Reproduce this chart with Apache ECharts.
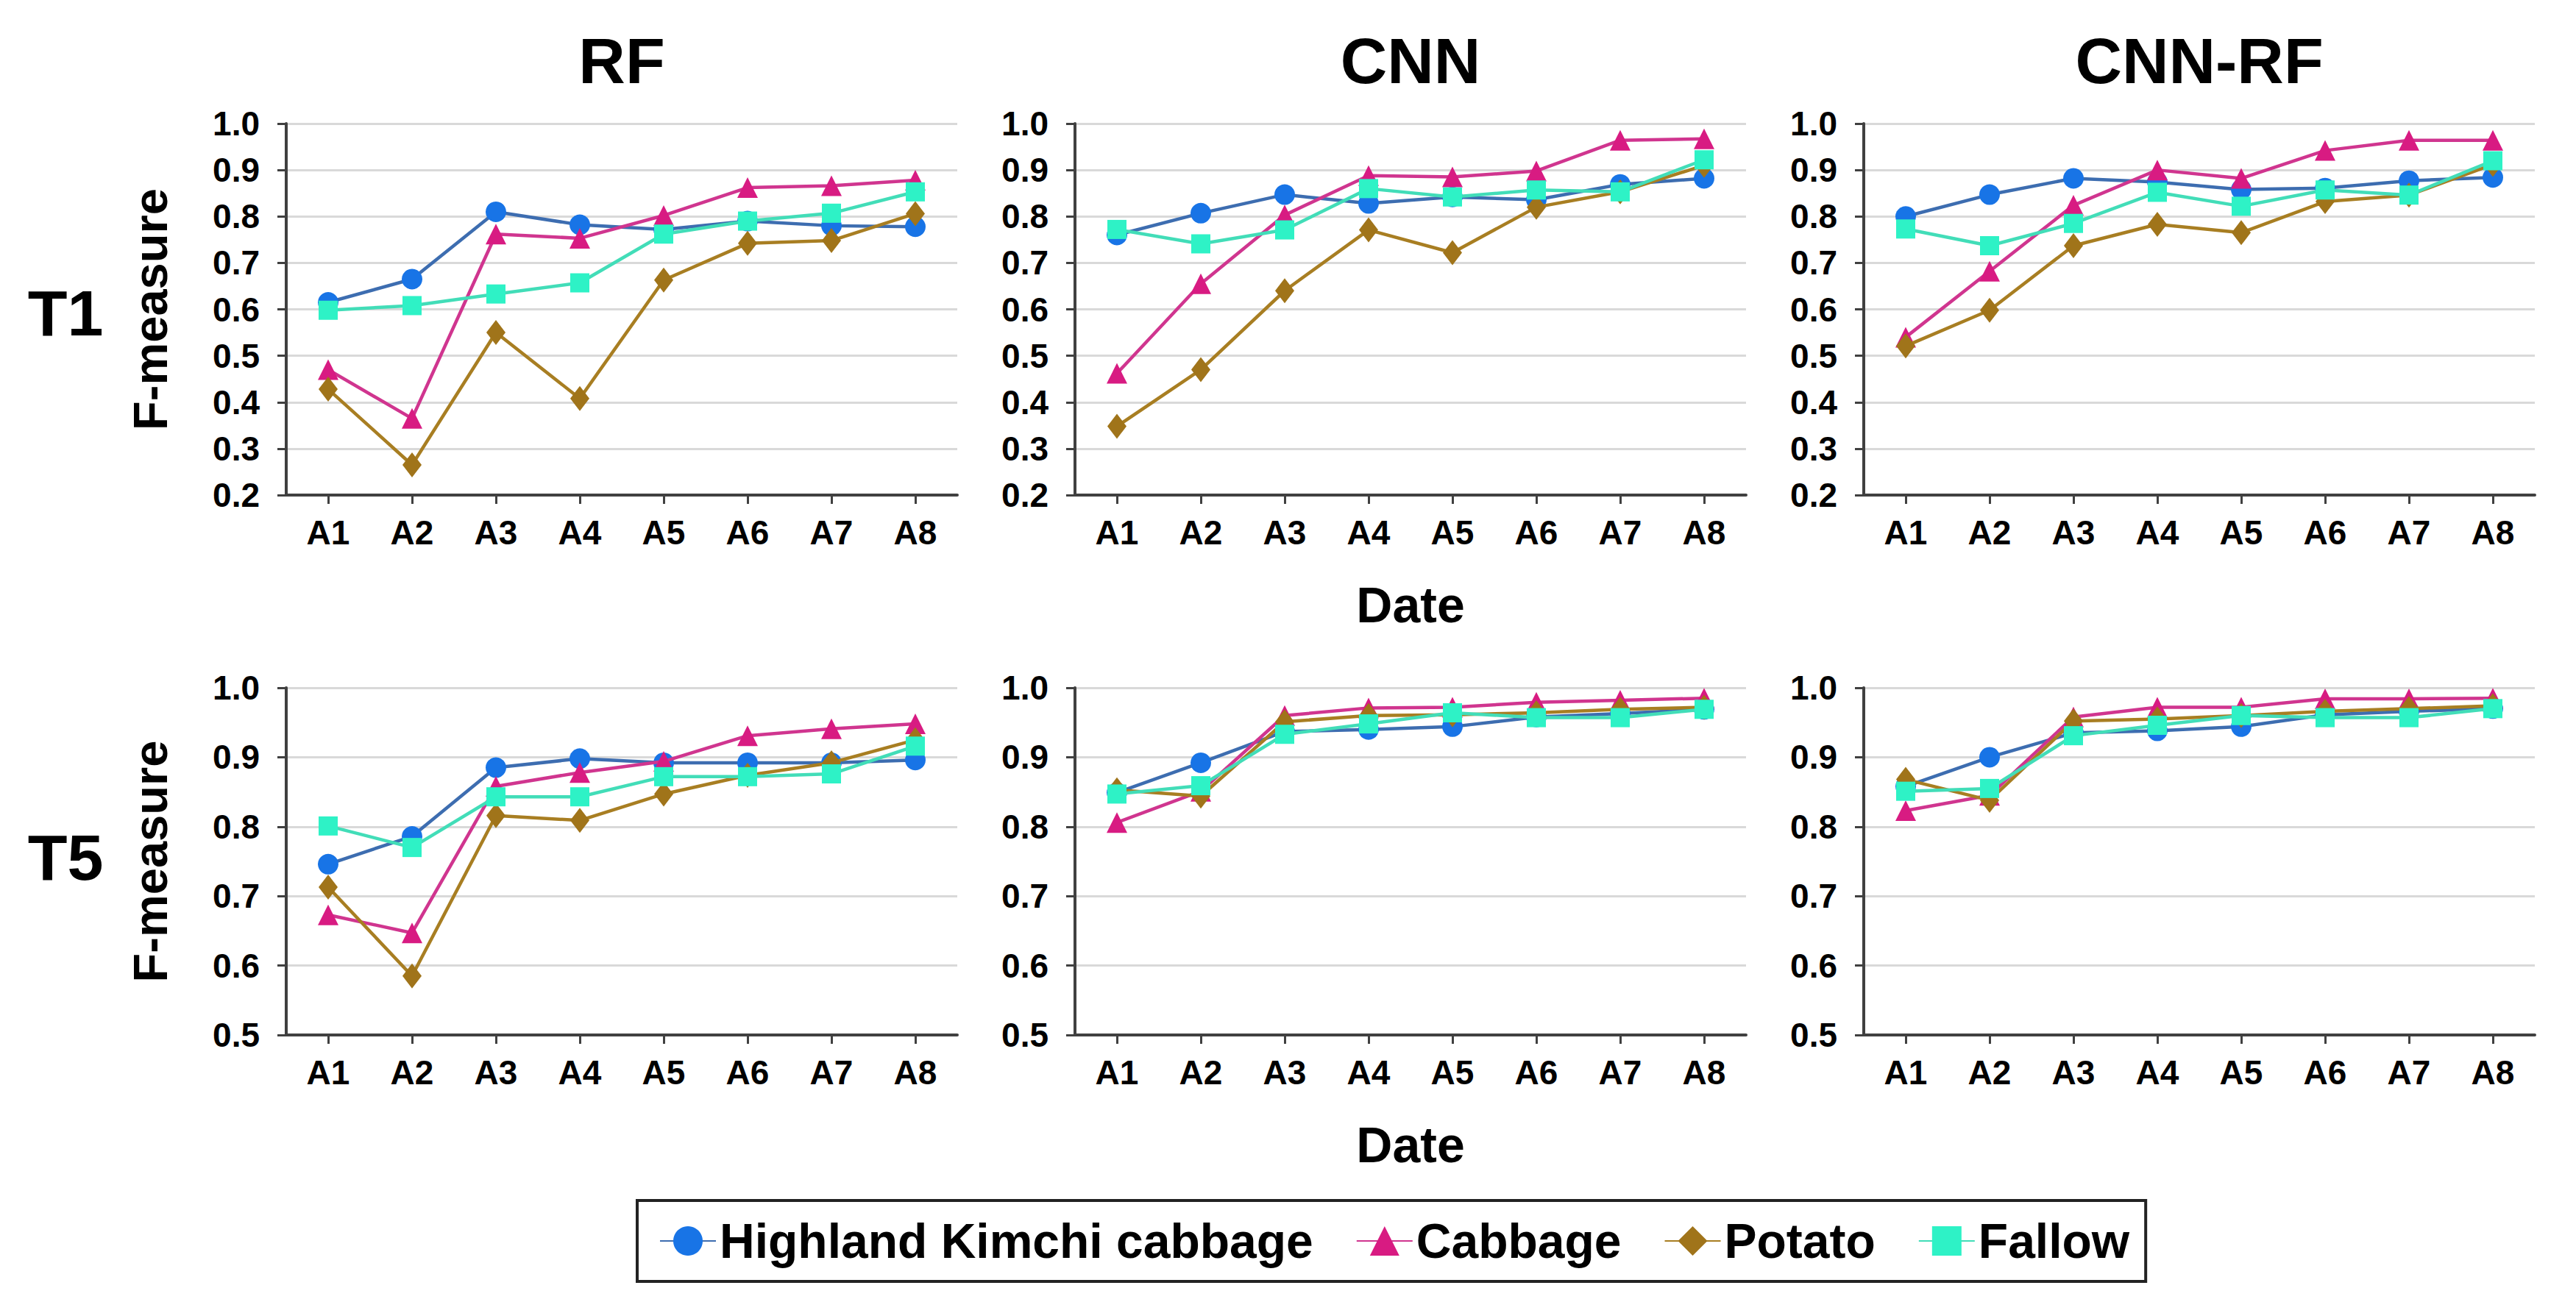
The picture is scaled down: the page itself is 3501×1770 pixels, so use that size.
<!DOCTYPE html>
<html>
<head>
<meta charset="utf-8">
<script src="https://cdn.jsdelivr.net/npm/echarts@6/dist/echarts.min.js"></script>
<style>html,body{margin:0;padding:0;background:#fff}#c{width:3501px;height:1770px}</style>
</head>
<body>
<div id="c"></div>
<script>
const categories = ['A1','A2','A3','A4','A5','A6','A7','A8'];
const seriesNames = ['Highland Kimchi cabbage','Cabbage','Potato','Fallow'];
const methodTitles = ['RF','CNN','CNN-RF'];
const rowLabels = ['T1','T5'];
const yTicksT1 = [0.2,0.3,0.4,0.5,0.6,0.7,0.8,0.9,1.0];
const yTicksT5 = [0.5,0.6,0.7,0.8,0.9,1.0];

// T1
const t1_rf_highland = [0.615,0.665,0.810,0.782,0.772,0.790,0.780,0.778];
const t1_rf_cabbage  = [0.470,0.365,0.762,0.753,0.802,0.862,0.866,0.878];
const t1_rf_potato   = [0.428,0.265,0.550,0.408,0.663,0.742,0.748,0.806];
const t1_rf_fallow   = [0.598,0.608,0.633,0.657,0.762,0.790,0.807,0.853];

const t1_cnn_highland = [0.760,0.807,0.847,0.828,0.842,0.836,0.869,0.882];
const t1_cnn_cabbage  = [0.462,0.655,0.803,0.888,0.885,0.898,0.964,0.967];
const t1_cnn_potato   = [0.348,0.470,0.640,0.771,0.722,0.820,0.853,0.910];
const t1_cnn_fallow   = [0.772,0.741,0.771,0.860,0.842,0.857,0.853,0.922];

const t1_cnnrf_highland = [0.800,0.847,0.882,0.874,0.858,0.861,0.877,0.884];
const t1_cnnrf_cabbage  = [0.540,0.682,0.824,0.900,0.882,0.942,0.964,0.964];
const t1_cnnrf_potato   = [0.521,0.598,0.737,0.783,0.765,0.832,0.846,0.912];
const t1_cnnrf_fallow   = [0.773,0.737,0.785,0.852,0.822,0.857,0.846,0.920];

// T5
const t5_rf_highland = [0.746,0.786,0.885,0.898,0.892,0.892,0.892,0.896];
const t5_rf_cabbage  = [0.673,0.647,0.858,0.878,0.894,0.931,0.941,0.948];
const t5_rf_potato   = [0.713,0.585,0.816,0.809,0.847,0.874,0.892,0.925];
const t5_rf_fallow   = [0.801,0.770,0.843,0.843,0.872,0.872,0.876,0.916];

const t5_cnn_highland = [0.849,0.892,0.937,0.940,0.944,0.958,0.963,0.969];
const t5_cnn_cabbage  = [0.806,0.851,0.960,0.971,0.972,0.979,0.982,0.985];
const t5_cnn_potato   = [0.853,0.844,0.951,0.960,0.961,0.964,0.969,0.972];
const t5_cnn_fallow   = [0.847,0.859,0.933,0.948,0.964,0.957,0.957,0.969];

const t5_cnnrf_highland = [0.858,0.900,0.935,0.938,0.944,0.961,0.966,0.970];
const t5_cnnrf_cabbage  = [0.823,0.845,0.958,0.972,0.972,0.984,0.984,0.985];
const t5_cnnrf_potato   = [0.868,0.838,0.952,0.955,0.960,0.966,0.970,0.974];
const t5_cnnrf_fallow   = [0.851,0.855,0.931,0.946,0.960,0.957,0.957,0.970];

const panels = [
  [t1_rf_highland, t1_rf_cabbage, t1_rf_potato, t1_rf_fallow],
  [t1_cnn_highland, t1_cnn_cabbage, t1_cnn_potato, t1_cnn_fallow],
  [t1_cnnrf_highland, t1_cnnrf_cabbage, t1_cnnrf_potato, t1_cnnrf_fallow],
  [t5_rf_highland, t5_rf_cabbage, t5_rf_potato, t5_rf_fallow],
  [t5_cnn_highland, t5_cnn_cabbage, t5_cnn_potato, t5_cnn_fallow],
  [t5_cnnrf_highland, t5_cnnrf_cabbage, t5_cnnrf_potato, t5_cnnrf_fallow]
];

const FONT = "'Liberation Sans', Arial, sans-serif";
const styles = [
  {symbol:'circle', size:28, item:'#1874E6', line:'#3D6DB0'},
  {symbol:'triangle', size:28, item:'#D81B82', line:'#D0358F'},
  {symbol:'diamond', size:[26,34], item:'#A0741A', line:'#A87E22'},
  {symbol:'rect', size:26, item:'#2EF2C6', line:'#42DDB8'}
];

const colLeft = [389, 1461, 2533];
const colWidth = 912;
const rowTop = [168, 935];
const rowHeight = [505, 472];

const grids = [], xAxes = [], yAxes = [], series = [];
for (let p = 0; p < 6; p++) {
  const r = Math.floor(p / 3), c = p % 3;
  grids.push({left: colLeft[c], top: rowTop[r], width: colWidth, height: rowHeight[r], outerBoundsMode: 'none', containLabel: false});
  xAxes.push({
    type: 'category', gridIndex: p, data: categories, boundaryGap: true,
    axisLine: {lineStyle: {color: '#404040', width: 4}},
    axisTick: {show: true, alignWithLabel: true, length: 12, lineStyle: {color: '#404040', width: 3}},
    axisLabel: {fontSize: 46, fontWeight: 'bold', fontFamily: FONT, color: '#000', margin: 28}
  });
  const ticks = r === 0 ? yTicksT1 : yTicksT5;
  yAxes.push({
    type: 'value', gridIndex: p, min: ticks[0], max: ticks[ticks.length - 1], interval: 0.1,
    axisLine: {show: true, lineStyle: {color: '#404040', width: 4}},
    axisTick: {show: true, length: 12, lineStyle: {color: '#404040', width: 3}},
    splitLine: {show: true, lineStyle: {color: '#D9D9D9', width: 3}},
    axisLabel: {fontSize: 46, fontWeight: 'bold', fontFamily: FONT, color: '#000', margin: 36,
      formatter: v => v.toFixed(1)},
    name: c === 0 ? 'F-measure' : '', nameLocation: 'middle', nameGap: 152,
    nameTextStyle: {fontSize: 65, fontWeight: 'bold', fontFamily: FONT, color: '#000'}
  });
  for (let s = 0; s < 4; s++) {
    const st = styles[s];
    series.push({
      type: 'line', name: seriesNames[s], xAxisIndex: p, yAxisIndex: p,
      data: panels[p][s], symbol: st.symbol, symbolSize: st.size,
      itemStyle: {color: st.item}, lineStyle: {color: st.line, width: 4.5},
      z: 2 + s, animation: false
    });
  }
}

const textEl = (txt, x, y, size) => ({
  type: 'text', x: x, y: y, silent: true,
  style: {text: txt, font: 'bold ' + size + 'px ' + FONT, fill: '#000',
    textAlign: 'center', align: 'center', textVerticalAlign: 'middle', verticalAlign: 'middle'}
});

const graphics = [];
for (let c = 0; c < 3; c++) graphics.push(textEl(methodTitles[c], colLeft[c] + colWidth / 2, 82, 88));
graphics.push(textEl(rowLabels[0], 89, 425, 88));
graphics.push(textEl(rowLabels[1], 89, 1165, 88));
graphics.push(textEl('Date', colLeft[1] + colWidth / 2, 822, 68));
graphics.push(textEl('Date', colLeft[1] + colWidth / 2, 1556, 68));

const chart = echarts.init(document.getElementById('c'), null, {renderer: 'svg'});
chart.setOption({
  backgroundColor: '#fff',
  animation: false,
  grid: grids, xAxis: xAxes, yAxis: yAxes, series: series,
  legend: {
    data: seriesNames, left: 866, top: 1632,
    padding: [22, 22, 22, 30], itemWidth: 76, itemHeight: 50, itemGap: 58,
    borderColor: '#222', borderWidth: 4,
    textStyle: {fontSize: 66, fontWeight: 'bold', fontFamily: FONT, color: '#000'}
  },
  graphic: graphics
});
</script>
</body>
</html>
